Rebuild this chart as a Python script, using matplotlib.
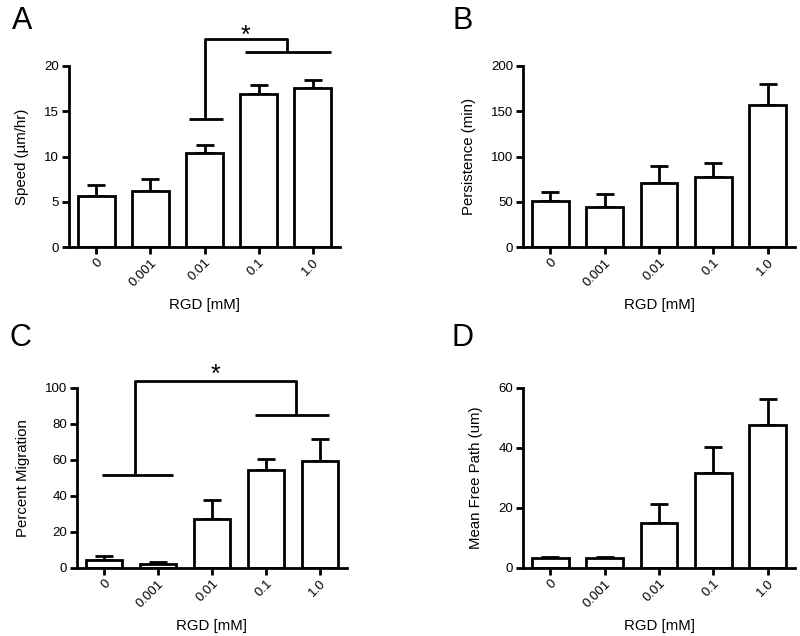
import matplotlib
matplotlib.use("Agg")
import matplotlib.pyplot as plt
import numpy as np

plt.rcParams['font.family'] = ['Liberation Sans', 'DejaVu Sans']

rgd = ["0", "0.001", "0.01", "0.1", "1.0"]

speed = [5.6, 6.2, 10.4, 16.9, 17.6]
speed_err = [1.2, 1.3, 0.9, 1.0, 0.9]

persistence = [50.5, 44.5, 70.5, 77.5, 157]
persistence_err = [10, 14.5, 19, 15.5, 23]

migration = [4.6, 2.2, 27.5, 54.6, 59.3]
migration_err = [2.0, 0.9, 10.5, 6.0, 12.5]

free_path = [3.4, 3.2, 15.1, 31.8, 47.6]
free_path_err = [0.4, 0.5, 6.4, 8.4, 8.7]

# significance brackets: (x-list, y-list) segments in data coords
brackets_a = [([1.71, 2.34], [14.1, 14.1]),
              ([2.0, 2.0, 3.52, 3.52], [14.1, 23.0, 23.0, 21.5]),
              ([2.75, 4.33], [21.5, 21.5])]
star_a = (2.76, 22.6)
brackets_c = [([-0.04, 1.27], [51.7, 51.7]),
              ([0.57, 0.57, 3.56, 3.56], [51.7, 103.7, 103.7, 85.0]),
              ([2.8, 4.17], [85.0, 85.0])]
star_c = (2.07, 103.2)

panels = [
    ("A", speed, speed_err, "Speed (\u00b5m/hr)", [0, 5, 10, 15, 20],
     [69, 66, 340, 247], (22, 21), brackets_a, star_a),
    ("B", persistence, persistence_err, "Persistence (min)", [0, 50, 100, 150, 200],
     [523, 66, 795, 247], (463, 21), None, None),
    ("C", migration, migration_err, "Percent Migration", [0, 20, 40, 60, 80, 100],
     [77, 388, 347, 568], (20, 338), brackets_c, star_c),
    ("D", free_path, free_path_err, "Mean Free Path (um)", [0, 20, 40, 60],
     [523, 388, 795, 568], (463, 338), None, None),
]

W, H = 800, 636
fig = plt.figure(figsize=(8, 6.36), dpi=100)

lw = 2.0
for letter, vals, errs, ylab, yt, box, lpos, brk, star in panels:
    x0, y0, x1, y1 = box
    ax = fig.add_axes([x0 / W, 1 - y1 / H, (x1 - x0) / W, (y1 - y0) / H])
    x = np.arange(len(rgd))
    ax.bar(x, vals, width=0.68, color="white", edgecolor="black", linewidth=lw, zorder=2)
    ax.errorbar(x, vals, yerr=[np.zeros(len(vals)), errs], fmt="none", ecolor="black",
                elinewidth=lw, capsize=6.7, capthick=lw, zorder=1)
    ax.set_xlim(-0.5, 4.5)
    ax.set_ylim(0, yt[-1])
    ax.set_yticks(yt)
    ax.set_xticks(x)
    ax.set_xticklabels(rgd, rotation=45, ha="right", rotation_mode="anchor")
    for s in ["top", "right"]:
        ax.spines[s].set_visible(False)
    for s in ["left", "bottom"]:
        ax.spines[s].set_linewidth(lw)
    ax.tick_params(width=lw, length=5, labelsize=9.5, direction="out", pad=2)
    ax.set_ylabel(ylab, fontsize=10.8, labelpad=11)
    ax.set_xlabel("RGD [mM]", fontsize=10.8, labelpad=7)
    fig.text(lpos[0] / W, 1 - lpos[1] / H, letter, fontsize=22, ha="center", va="center")
    if brk:
        for bx, by in brk:
            ax.plot(bx, by, color="black", lw=lw, clip_on=False, solid_capstyle="butt")
        ax.text(star[0], star[1], "*", fontsize=18, ha="center", va="baseline")

fig.savefig("out.png", dpi=100)
